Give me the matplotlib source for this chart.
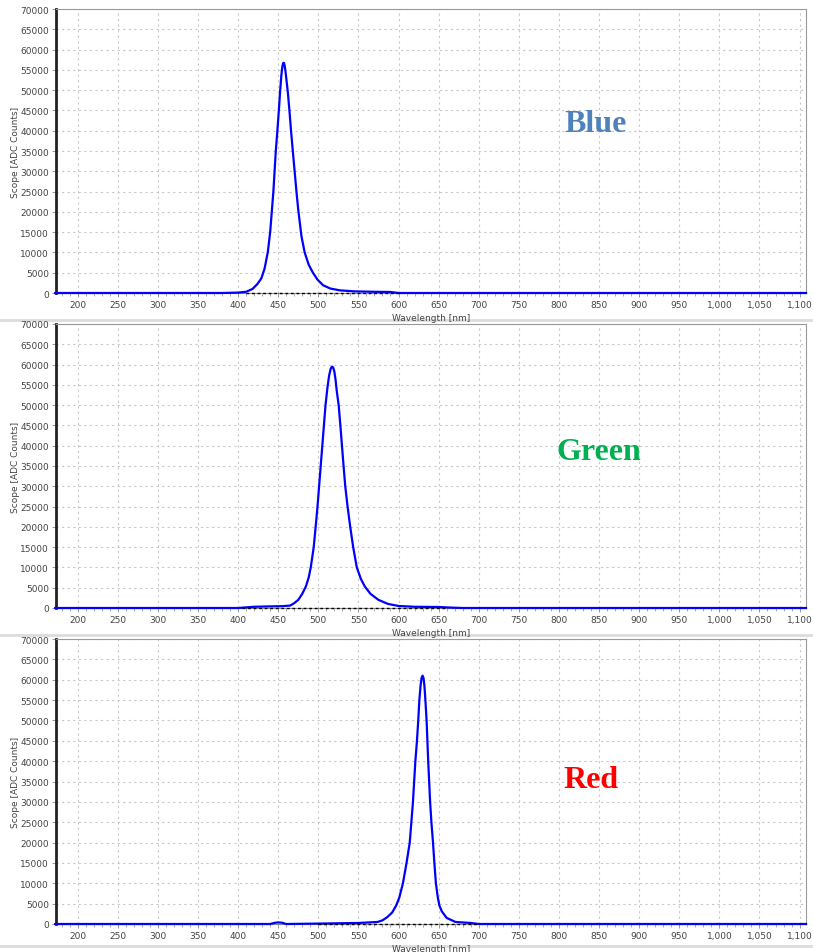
import matplotlib
matplotlib.use("Agg")
import matplotlib.pyplot as plt
from matplotlib.ticker import MultipleLocator, FuncFormatter
from matplotlib.lines import Line2D

# Spectres (longueur d'onde en nm, comptes ADC)
blue_nm = [172, 380, 400, 410, 418, 424, 429, 433, 437, 440, 442, 444, 445.5, 447, 449, 451,
           452.5, 454, 455.3, 456.3, 457.2, 458, 459, 460.3, 462, 464, 466, 468, 470.5, 473,
           475, 479, 483, 488, 493, 499, 506, 515, 527, 545, 570, 590, 600, 1108]
blue_counts = [0, 0, 100, 300, 1000, 2200, 3600, 6000, 10000, 15000, 20000, 25000, 30000, 35000,
               40000, 45500, 50000, 53800, 55900, 56700, 56700, 56100, 54800, 52500, 49500, 45000,
               40000, 35500, 30000, 24500, 20500, 14000, 10000, 7000, 5100, 3300, 1900, 1100,
               650, 400, 300, 250, 0, 0]

green_nm = [172, 400, 410, 420, 440, 455, 465, 470, 475, 480, 484.5, 488, 490.6, 494.3, 496.7,
            499, 501, 503, 505, 507, 509, 511.5, 513.5, 515.5, 517, 518.5, 520, 521.5, 523,
            525.4, 527.5, 529.5, 531.5, 533.6, 536.5, 539.8, 543.5, 548, 553, 558, 565, 575,
            587, 600, 620, 650, 665, 680, 1108]
green_counts = [0, 0, 150, 300, 400, 450, 600, 1200, 2000, 3500, 5300, 7500, 10000, 15000, 20000,
                25000, 30000, 35000, 40000, 45000, 50000, 54500, 57300, 59000, 59500, 59300, 58300,
                56300, 53500, 50000, 45000, 40000, 35000, 30000, 25000, 20000, 15000, 10000, 7200,
                5300, 3500, 2000, 1000, 500, 300, 250, 100, 0, 0]

red_nm = [172, 440, 446, 450, 455, 460, 500, 550, 574, 580, 586, 592, 597, 601, 605.5, 610, 614,
          616, 618, 619.5, 621, 623, 624.6, 626, 627.5, 628.8, 630, 631.2, 632.3, 633.5, 635,
          636, 637, 638.2, 639.4, 641, 643, 644.7, 646.6, 649, 651, 654, 660, 671, 690, 700, 1108]
red_counts = [0, 0, 300, 400, 300, 0, 100, 250, 500, 900, 1700, 2800, 4500, 6500, 10000, 15000,
              20000, 25000, 30000, 35000, 40000, 45000, 50000, 55000, 58600, 60500, 61000, 60400,
              58500, 55000, 50000, 45000, 40000, 35000, 30000, 25000, 20000, 15000, 10000, 6500,
              4500, 3100, 1500, 500, 250, 0, 0]

# Zone du spectre noir (pointillés) pour chaque panneau
dark_ranges = [(410, 600), (405, 660), (500, 700)]

labels = ["Blue", "Green", "Red"]
label_colors = ["#4F81BD", "#00B050", "#FF0000"]

panels = [(blue_nm, blue_counts), (green_nm, green_counts), (red_nm, red_counts)]

W, H = 813, 953
fig = plt.figure(figsize=(W / 100, H / 100), dpi=100)
fig.patch.set_facecolor("white")

tops = [10, 325, 640]
bottoms = [294, 609, 925]
left, right = 56, 806
label_x = [596, 599, 591]
label_y = [124, 453, 781]

# Séparateurs gris entre les captures
for y in [321, 636, 947]:
    fig.add_artist(Line2D([0, 1], [1 - y / H, 1 - y / H], color="#dcdcdc", linewidth=2, zorder=0))

for i, (nm, counts) in enumerate(panels):
    ax = fig.add_axes([left / W, 1 - bottoms[i] / H, (right - left) / W, (bottoms[i] - tops[i]) / H])
    ax.set_xlim(173, 1108)
    ax.set_ylim(0, 70000)
    ax.xaxis.set_major_locator(MultipleLocator(50))
    ax.xaxis.set_minor_locator(MultipleLocator(10))
    ax.yaxis.set_major_locator(MultipleLocator(5000))
    ax.xaxis.set_major_formatter(FuncFormatter(lambda v, p: f"{int(v):,}"))
    ax.tick_params(axis="both", labelsize=6.5, labelcolor="#444444", color="#888888",
                   length=3, width=0.6, pad=2)
    ax.tick_params(axis="x", which="minor", length=2, color="#888888", width=0.5)
    ax.grid(True, which="major", linestyle=(0, (2, 3)), color="#c8c8c8", linewidth=0.8)
    ax.set_axisbelow(True)
    for side in ["top", "right"]:
        ax.spines[side].set_color("#999999")
        ax.spines[side].set_linewidth(0.8)
    ax.spines["left"].set_color("#222222")
    ax.spines["left"].set_linewidth(2)
    ax.spines["bottom"].set_color("#888888")

    ax.plot(nm, counts, color="#0000FF", linewidth=1.6, clip_on=False, zorder=3)
    d0, d1 = dark_ranges[i]
    ax.plot([d0, d1], [0, 0], color="black", linewidth=1, linestyle=(0, (2, 2)), zorder=4, clip_on=False)

    ax.set_xlabel("Wavelength [nm]", fontsize=6.5, color="#444444", labelpad=3)
    ax.set_ylabel("Scope [ADC Counts]", fontsize=6.5, color="#444444")
    ax.yaxis.set_label_coords(-36 / (right - left), 0.5)

    fig.text(label_x[i] / W, 1 - label_y[i] / H, labels[i], color=label_colors[i],
             fontsize=23, fontweight="bold", family="Liberation Serif", ha="center", va="center")

plt.savefig("out.png", dpi=100)
